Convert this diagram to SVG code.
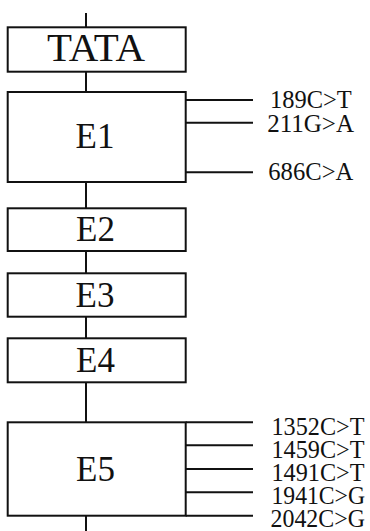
<svg xmlns="http://www.w3.org/2000/svg" width="370" height="531" viewBox="0 0 370 531">
  <style>
    .box { fill: #ffffff; stroke: #111111; stroke-width: 2; }
    .ln { stroke: #111111; stroke-width: 2; fill: none; }
    .exon { font-family: "Liberation Serif", "Times New Roman", serif; font-size: 35px; fill: #111111; text-anchor: middle; }
    .mut { font-family: "Liberation Serif", "Times New Roman", serif; font-size: 26px; fill: #111111; }
    .mut5 { font-family: "Liberation Serif", "Times New Roman", serif; font-size: 26px; fill: #111111; }
  </style>
  <rect width="370" height="531" fill="#ffffff"/>

  <!-- gene backbone and mutation ticks -->
  <g id="connectors">
    <line class="ln" x1="86" y1="13" x2="86" y2="27.3"/>
    <line class="ln" x1="86" y1="71.7" x2="86" y2="92"/>
    <line class="ln" x1="86" y1="182" x2="86" y2="208.3"/>
    <line class="ln" x1="86" y1="251" x2="86" y2="273.3"/>
    <line class="ln" x1="86" y1="316.7" x2="86" y2="338.3"/>
    <line class="ln" x1="86" y1="382.3" x2="86" y2="422.3"/>
    <line class="ln" x1="86" y1="515.7" x2="86" y2="531"/>

    <!-- E1 variants -->
    <line class="ln" x1="185.7" y1="100" x2="253" y2="100"/>
    <line class="ln" x1="185.7" y1="122.7" x2="253" y2="122.7"/>
    <line class="ln" x1="185.7" y1="172.3" x2="253" y2="172.3"/>

    <!-- E5 variants -->
    <line class="ln" x1="185.7" y1="422.3" x2="253" y2="422.3"/>
    <line class="ln" x1="185.7" y1="445.3" x2="253" y2="445.3"/>
    <line class="ln" x1="185.7" y1="469" x2="253" y2="469"/>
    <line class="ln" x1="185.7" y1="492.3" x2="253" y2="492.3"/>
    <line class="ln" x1="185.7" y1="515.7" x2="253" y2="515.7"/>
  </g>

  <g id="tata">
    <rect class="box" x="7.7" y="27.3" width="178" height="44.4"/>
    <text class="exon" x="96" y="61" style="font-size:39px" textLength="98" lengthAdjust="spacingAndGlyphs">TATA</text>
  </g>

  <g id="e1">
    <rect class="box" x="7.7" y="92" width="178" height="90"/>
    <text class="exon" x="95" y="148.3">E1</text>
    <text class="mut" x="270" y="108.3" textLength="81.7" lengthAdjust="spacingAndGlyphs">189C&gt;T</text>
    <text class="mut" x="267.3" y="131.7" textLength="86.7" lengthAdjust="spacingAndGlyphs">211G&gt;A</text>
    <text class="mut" x="268.3" y="180" textLength="85" lengthAdjust="spacingAndGlyphs">686C&gt;A</text>
  </g>

  <g id="e2">
    <rect class="box" x="7.7" y="208.3" width="178" height="42.7"/>
    <text class="exon" x="95.5" y="240.7">E2</text>
  </g>

  <g id="e3">
    <rect class="box" x="7.7" y="273.3" width="178" height="43.4"/>
    <text class="exon" x="95" y="306.7">E3</text>
  </g>

  <g id="e4">
    <rect class="box" x="7.7" y="338.3" width="178" height="44"/>
    <text class="exon" x="95.5" y="371.7">E4</text>
  </g>

  <g id="e5">
    <rect class="box" x="7.7" y="422.3" width="178" height="93.4"/>
    <text class="exon" x="95.5" y="481">E5</text>
    <text class="mut5" x="271.5" y="435" textLength="93" lengthAdjust="spacingAndGlyphs">1352C&gt;T</text>
    <text class="mut5" x="271.5" y="457.7" textLength="93" lengthAdjust="spacingAndGlyphs">1459C&gt;T</text>
    <text class="mut5" x="271.5" y="481" textLength="93" lengthAdjust="spacingAndGlyphs">1491C&gt;T</text>
    <text class="mut5" x="271.5" y="504" textLength="93.5" lengthAdjust="spacingAndGlyphs">1941C&gt;G</text>
    <text class="mut5" x="270.5" y="526.7" textLength="94.5" lengthAdjust="spacingAndGlyphs">2042C&gt;G</text>
  </g>
</svg>
